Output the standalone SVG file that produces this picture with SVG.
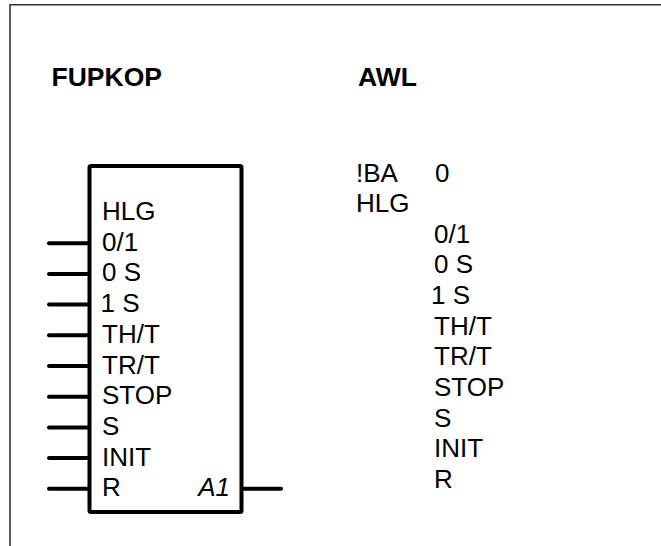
<svg xmlns="http://www.w3.org/2000/svg" width="661" height="546" viewBox="0 0 661 546">
<style>
text{font-family:"Liberation Sans",Arial,sans-serif;font-size:26px;fill:#000}
.t{font-weight:bold;font-size:26.5px}
.i{font-style:italic}
.pin{stroke:#000;stroke-width:4;stroke-linecap:round;fill:none}
</style>
<rect width="661" height="546" fill="#fff"/>
<g id="frame">
<path d="M10 546V4.7H661" fill="none" stroke="#333" stroke-width="1.6"/>
</g>
<g id="titles">
<text class="t" x="51.5" y="86">FUPKOP</text>
<text class="t" x="358" y="86">AWL</text>
</g>
<g id="block">
<rect x="89.5" y="166" width="152" height="346" rx="1.5" fill="#fff" stroke="#000" stroke-width="4"/>
<text x="102" y="220">HLG</text>
<text x="102" y="250.7">0/1</text>
<text x="102" y="281.4">0 S</text>
<text x="100.5" y="312.1">1 S</text>
<text x="102" y="342.8">TH/T</text>
<text x="102" y="373.5">TR/T</text>
<text x="102" y="404.2">STOP</text>
<text x="102" y="434.9">S</text>
<text x="102" y="465.6">INIT</text>
<text x="102" y="496.3">R</text>
<text class="i" x="230" y="496.3" text-anchor="end">A1</text>
</g>
<g id="connectors">
<line class="pin" x1="49" y1="243.2" x2="89" y2="243.2"/>
<line class="pin" x1="49" y1="273.9" x2="89" y2="273.9"/>
<line class="pin" x1="49" y1="304.6" x2="89" y2="304.6"/>
<line class="pin" x1="49" y1="335.3" x2="89" y2="335.3"/>
<line class="pin" x1="49" y1="366" x2="89" y2="366"/>
<line class="pin" x1="49" y1="396.7" x2="89" y2="396.7"/>
<line class="pin" x1="49" y1="427.4" x2="89" y2="427.4"/>
<line class="pin" x1="49" y1="458.1" x2="89" y2="458.1"/>
<line class="pin" x1="49" y1="488.8" x2="89" y2="488.8"/>
<line class="pin" x1="242" y1="488.8" x2="281" y2="488.8"/>
</g>
<g id="awl">
<text x="356" y="181.7">!BA</text>
<text x="435" y="181.7">0</text>
<text x="356" y="211.8">HLG</text>
<text x="434" y="242.5">0/1</text>
<text x="434" y="273.2">0 S</text>
<text x="431" y="303.9">1 S</text>
<text x="434" y="334.6">TH/T</text>
<text x="434" y="365.3">TR/T</text>
<text x="434" y="396">STOP</text>
<text x="434" y="426.7">S</text>
<text x="434" y="457.4">INIT</text>
<text x="434" y="488.1">R</text>
</g>
</svg>
